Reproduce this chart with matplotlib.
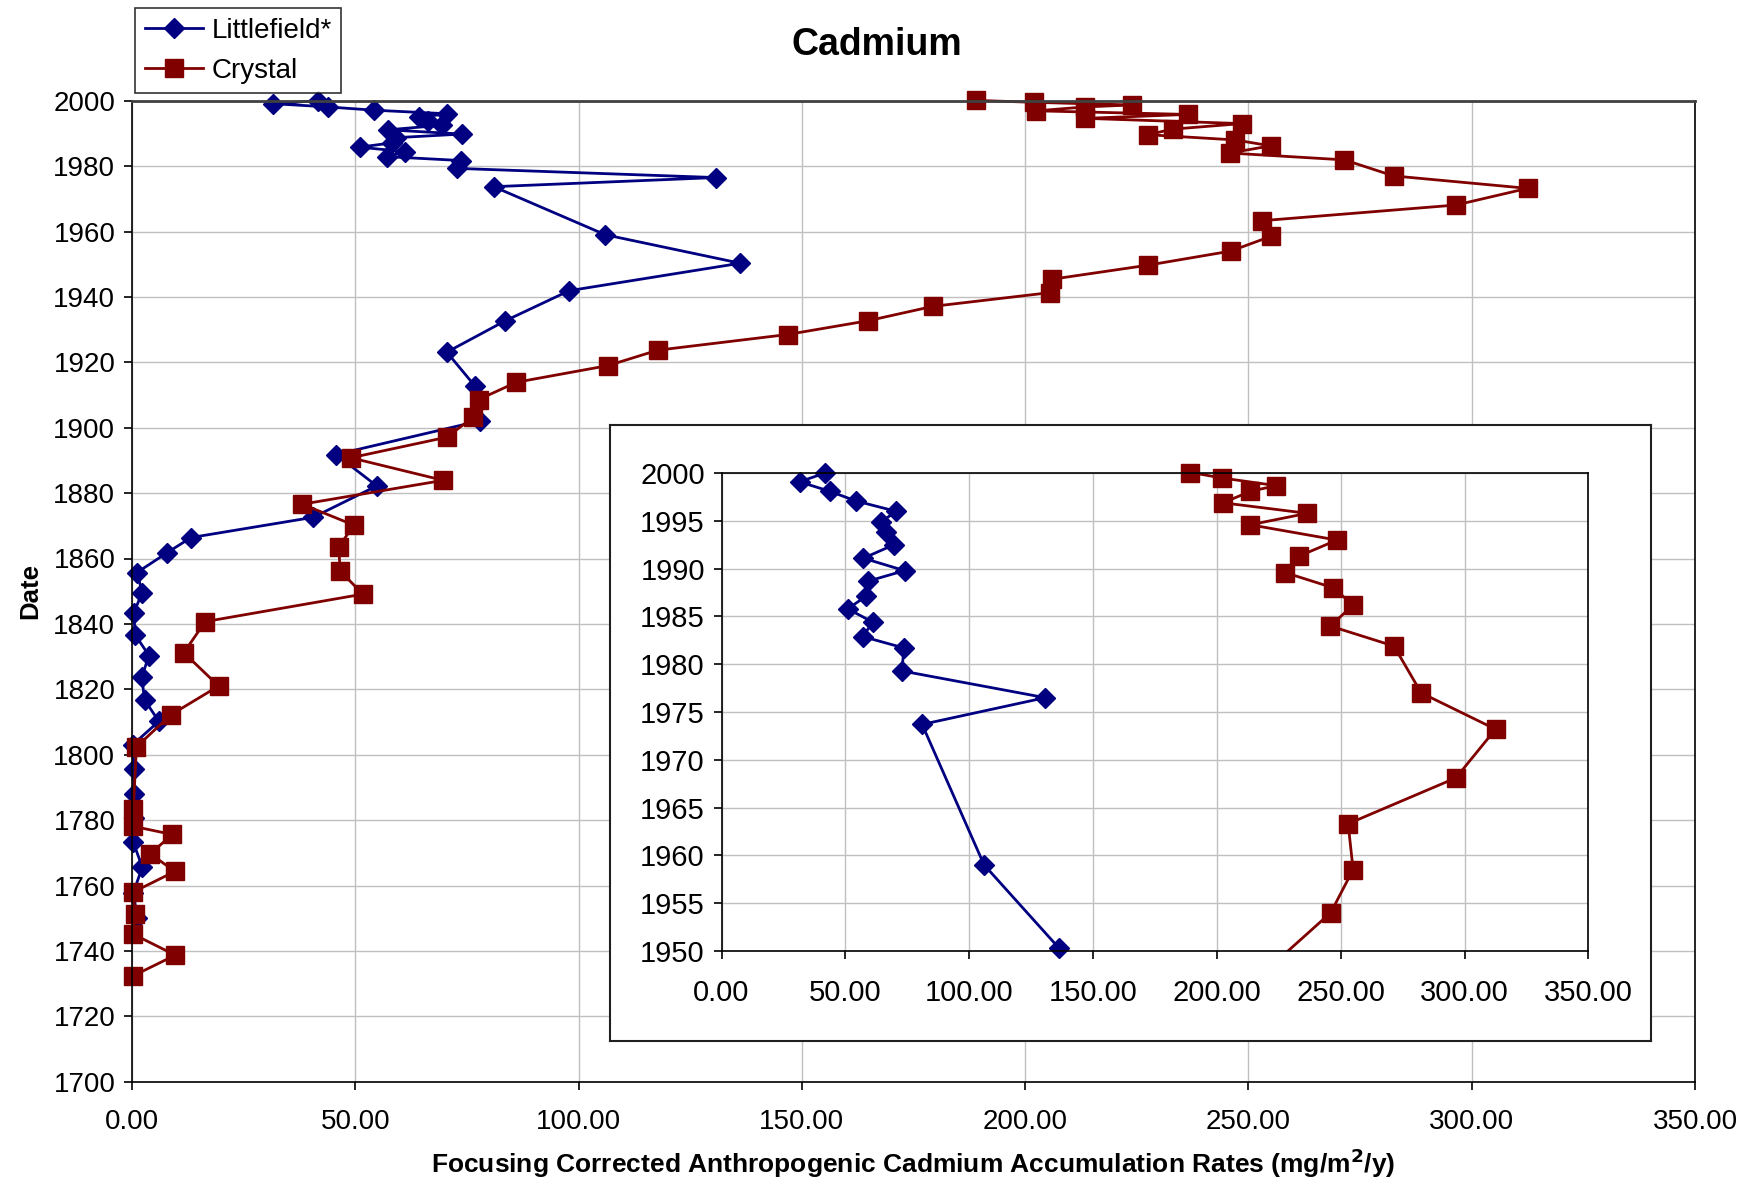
import numpy as np
import matplotlib.pyplot as plt
from matplotlib.lines import Line2D

plt.rcParams['font.family'] = ['Liberation Sans', 'DejaVu Sans']

# ----- Data: accumulation rate vs. date -----
little_year = [2000.0, 1999.1, 1998.1, 1997.1, 1996.0, 1994.9, 1993.8, 1992.5, 1991.1,
               1989.8, 1988.7, 1987.1, 1985.8, 1984.4, 1982.9, 1981.7, 1979.3, 1976.5,
               1973.7, 1959.0, 1950.3, 1941.9, 1932.7, 1923.1, 1912.9, 1902.1, 1891.8,
               1882.2, 1872.6, 1866.4, 1861.8, 1855.7, 1849.6, 1843.4, 1836.7, 1830.3,
               1823.8, 1816.8, 1810.2, 1803.1, 1795.7, 1788.0, 1780.6, 1773.2, 1765.6,
               1757.8, 1750.0]
little_rate = [41.6, 31.5, 43.8, 54.2, 70.6, 64.3, 66.3, 69.5, 57.3,
               73.9, 59.2, 58.2, 51.0, 61.1, 57.0, 73.7, 72.8, 130.7,
               81.0, 106.0, 136.2, 97.9, 83.6, 70.5, 76.7, 77.9, 45.7,
               54.8, 40.6, 13.2, 7.9, 1.1, 2.3, 0.4, 0.7, 3.8,
               2.2, 2.8, 6.0, 0.2, 0.4, 0.4, 0.4, 0.3, 2.3,
               0.3, 1.2]

crystal_year = [2000.1, 1999.5, 1998.7, 1998.1, 1996.9, 1995.8, 1994.6, 1993.0, 1991.3,
                1989.6, 1988.0, 1986.2, 1984.0, 1981.9, 1977.0, 1973.2, 1968.1, 1963.3,
                1958.5, 1954.0, 1949.7, 1945.4, 1941.3, 1937.1, 1932.7, 1928.5, 1923.7,
                1919.0, 1913.9, 1908.6, 1903.2, 1897.1, 1890.8, 1883.9, 1876.6, 1870.2,
                1863.6, 1856.2, 1849.1, 1840.7, 1831.2, 1821.0, 1812.2, 1802.4, 1783.4,
                1778.1, 1775.6, 1769.7, 1764.3, 1758.0, 1751.4, 1745.1, 1738.7, 1732.4]
crystal_rate = [189.0, 202.0, 224.0, 213.5, 202.5, 236.5, 213.5, 248.5, 233.0,
                227.5, 247.0, 255.0, 245.8, 271.5, 282.5, 312.5, 296.5, 253.0,
                255.0, 246.0, 227.5, 206.0, 205.5, 179.3, 164.8, 146.8, 117.7,
                106.6, 86.1, 77.6, 76.4, 70.5, 49.0, 69.7, 38.1, 49.7,
                46.3, 46.6, 51.7, 16.4, 11.6, 19.4, 8.7, 1.0, 0.3,
                0.3, 9.0, 4.1, 9.6, 0.3, 0.6, 0.3, 9.7, 0.3]

x_ticks = np.arange(0, 351, 50)
x_labels = [f"{v:.2f}" for v in x_ticks]

BLUE = "#000080"
RED = "#800000"
GRID = "#c0c0c0"

D_SIZE = 10
S_SIZE = 12.5
LW = 2.0


def style_axes(ax, fs):
    ax.grid(True, color=GRID, lw=1.0)
    ax.set_axisbelow(True)
    ax.tick_params(direction="out", length=6, width=1.2, labelsize=fs, pad=6)
    for s in ax.spines.values():
        s.set_color("black")
        s.set_linewidth(1.2)


fig = plt.figure(figsize=(17.54, 11.78), dpi=100)

# ----- Main plot -----
ax = fig.add_axes([132 / 1754, 1 - 1081.7 / 1178, 1563 / 1754, 981 / 1178])
ax.plot(little_rate, little_year, color=BLUE, marker="D", markersize=D_SIZE, lw=LW, clip_on=False)
ax.plot(crystal_rate, crystal_year, color=RED, marker="s", markersize=S_SIZE, lw=LW, clip_on=False)
ax.set_xlim(0, 350)
ax.set_ylim(1700, 2000)
ax.set_xticks(x_ticks)
ax.set_xticklabels(x_labels)
ax.set_yticks(np.arange(1700, 2001, 20))
style_axes(ax, 20)
ax.spines["top"].set_color("#404040")
ax.spines["top"].set_linewidth(2)
ax.tick_params(axis="x", pad=14)
ax.set_xlabel("Focusing Corrected Anthropogenic Cadmium Accumulation Rates (mg/m$^{\\mathbf{2}}$/y)",
              fontsize=19, fontweight="bold", labelpad=8)
ax.set_ylabel("Date", fontsize=18.5, fontweight="bold", labelpad=8)

fig.text(0.5, 1 - 45 / 1178, "Cadmium", fontsize=27, fontweight="bold",
         ha="center", va="center")

# Legend in the top-left corner
handles = [Line2D([], [], color=BLUE, marker="D", markersize=D_SIZE, lw=LW),
           Line2D([], [], color=RED, marker="s", markersize=S_SIZE, lw=LW)]
leg = fig.legend(handles, ["Littlefield*", "Crystal"], loc="upper left",
                 bbox_to_anchor=(135 / 1754, 1 - 8 / 1178), fontsize=20,
                 frameon=True, fancybox=False, handlelength=2.1, handletextpad=0.3,
                 borderpad=0.35, labelspacing=0.5, borderaxespad=0)
leg.get_frame().set_edgecolor("black")
leg.get_frame().set_linewidth(1.2)

# ----- Inset: 1950-2000 detail -----
frame = fig.add_axes([609.6 / 1754, 1 - 1041.4 / 1178, (1651 - 609.6) / 1754, (1041.4 - 425) / 1178])
frame.set_xticks([])
frame.set_yticks([])
for s in frame.spines.values():
    s.set_color("#202020")
    s.set_linewidth(1.5)

ins = fig.add_axes([721.5 / 1754, 1 - 950.8 / 1178, 866.9 / 1754, 477.6 / 1178])
ins.plot(little_rate, little_year, color=BLUE, lw=LW)
ins.plot(crystal_rate, crystal_year, color=RED, lw=LW)

# markers inside the window are drawn whole, even at the edges
ly = np.array(little_year)
lr = np.array(little_rate)
cy = np.array(crystal_year)
cr = np.array(crystal_rate)
lm = ly >= 1949.5
cm = cy >= 1949.9
ins.plot(lr[lm], np.minimum(ly[lm], 2000.0), ls="none", color=BLUE, marker="D",
         markersize=D_SIZE, clip_on=False)
ins.plot(cr[cm], np.minimum(cy[cm], 2000.0), ls="none", color=RED, marker="s",
         markersize=S_SIZE, clip_on=False)

ins.set_xlim(0, 350)
ins.set_ylim(1950, 2000)
ins.set_xticks(x_ticks)
ins.set_xticklabels(x_labels)
ins.set_yticks(np.arange(1950, 2001, 5))
style_axes(ins, 21)
ins.tick_params(axis="x", pad=14)

fig.savefig("out.png", dpi=100)
